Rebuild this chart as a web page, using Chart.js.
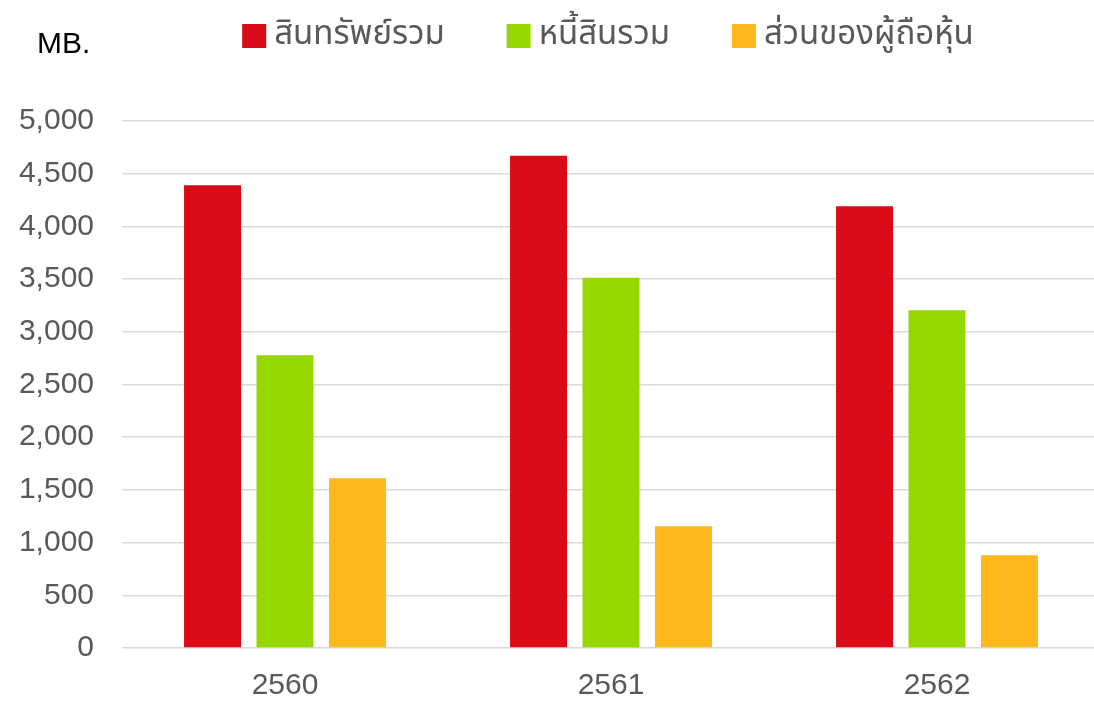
<!DOCTYPE html>
<html>
<head>
<meta charset="utf-8">
<script src="https://cdn.jsdelivr.net/npm/chart.js@4/dist/chart.umd.min.js"></script>
<style>
html,body{margin:0;padding:0;background:#fff;overflow:hidden;}
#wrap{width:1094px;height:701px;position:relative;overflow:hidden;}
</style>
</head>
<body>
<div id="wrap"><canvas id="c" width="1100" height="701"></canvas></div>
<script>
const categories = ['2560', '2561', '2562'];
const seriesNames = ['สินทรัพย์รวม', 'หนี้สินรวม', 'ส่วนของผู้ถือหุ้น'];
const totalAssets = [4390, 4670, 4190];
const totalLiabilities = [2778, 3513, 3205];
const shareholdersEquity = [1610, 1155, 881];
const yTicks = [0, 500, 1000, 1500, 2000, 2500, 3000, 3500, 4000, 4500, 5000];
const unitLabel = 'MB.';
const colors = ['#D90B18', '#97D700', '#FFB81C'];
const visibleWidth = 1094;

const customLegend = {
  id: 'customLegend',
  afterDraw(chart) {
    const ctx = chart.ctx;
    const area = chart.chartArea;
    ctx.save();
    // unit label
    ctx.font = '30px "Liberation Sans", Arial, sans-serif';
    ctx.fillStyle = '#000000';
    ctx.textBaseline = 'middle';
    ctx.textAlign = 'left';
    ctx.fillText(unitLabel, 37, 45);
    // legend
    ctx.font = '33px "Noto Sans Thai", "Noto Sans", "DejaVu Sans", sans-serif';
    const box = 24, gapText = 8, gapItem = 62;
    const widths = chart.data.datasets.map(d => ctx.measureText(d.label).width);
    const total = widths.reduce((a, w) => a + box + gapText + w, 0) + gapItem * (widths.length - 1);
    let x = (area.left + Math.min(area.right, visibleWidth)) / 2 - total / 2;
    const cy = 36;
    chart.data.datasets.forEach((d, i) => {
      ctx.fillStyle = d.backgroundColor;
      ctx.fillRect(x, cy - box / 2, box, box);
      ctx.fillStyle = '#595959';
      ctx.fillText(d.label, x + box + gapText, cy + 1);
      x += box + gapText + widths[i] + gapItem;
    });
    ctx.restore();
  }
};

new Chart(document.getElementById('c'), {
  type: 'bar',
  data: {
    labels: categories,
    datasets: [
      { label: seriesNames[0], data: totalAssets, backgroundColor: colors[0] },
      { label: seriesNames[1], data: totalLiabilities, backgroundColor: colors[1] },
      { label: seriesNames[2], data: shareholdersEquity, backgroundColor: colors[2] }
    ]
  },
  options: {
    responsive: false,
    animation: false,
    devicePixelRatio: 1,
    layout: { padding: { top: 121, left: 15, right: 0, bottom: 0 } },
    datasets: { bar: { categoryPercentage: 0.667, barPercentage: 0.786 } },
    plugins: { legend: { display: false }, tooltip: { enabled: false } },
    scales: {
      x: {
        afterFit(axis) { axis.height = 53; },
        grid: { display: false, drawTicks: false },
        border: { display: false },
        ticks: { color: '#595959', font: { family: '"Liberation Sans", Arial, sans-serif', size: 30 }, padding: 20 }
      },
      y: {
        min: 0, max: 5000,
        afterFit(axis) { axis.width = 107; },
        afterBuildTicks(axis) { axis.ticks = yTicks.map(v => ({ value: v })); },
        grid: { color: '#d9d9d9', lineWidth: 1.5, drawTicks: false },
        border: { display: false },
        ticks: {
          color: '#595959',
          font: { family: '"Liberation Sans", Arial, sans-serif', size: 30 },
          padding: 28,
          callback: v => v.toLocaleString('en-US')
        }
      }
    }
  },
  plugins: [customLegend]
});
</script>
</body>
</html>
